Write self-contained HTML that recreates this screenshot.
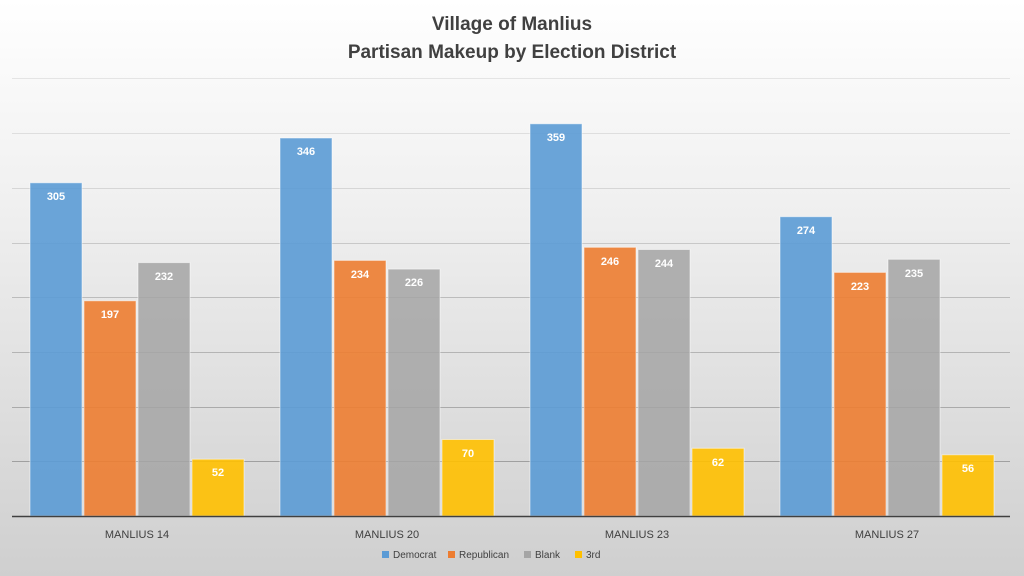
<!DOCTYPE html>
<html><head><meta charset="utf-8"><style>
html,body{margin:0;padding:0;width:1024px;height:576px;overflow:hidden}
svg{display:block;font-family:"Liberation Sans",Arial,sans-serif}
.d{fill:#5b9bd5;fill-opacity:.9}.r{fill:#ed7d31;fill-opacity:.9}.b{fill:#a5a5a5;fill-opacity:.85}.t{fill:#ffc000;fill-opacity:.9}
rect.d,rect.r,rect.b,rect.t{stroke:#fff;stroke-opacity:.5;stroke-width:1}
</style></head><body>
<svg width="1024" height="576" xmlns="http://www.w3.org/2000/svg">
<defs><linearGradient id="bg" x1="0" y1="0" x2="0" y2="1">
<stop offset="0" stop-color="#ffffff"/><stop offset="0.35" stop-color="#f0f0f0"/><stop offset="1" stop-color="#cfcfcf"/></linearGradient></defs>
<rect width="1024" height="576" fill="url(#bg)"/>
<text x="512" y="30" text-anchor="middle" font-size="19" font-weight="bold" fill="#404040">Village of Manlius</text>
<text x="512" y="58" text-anchor="middle" font-size="19" font-weight="bold" fill="#404040">Partisan Makeup by Election District</text>
<g stroke-width="1">
<line x1="12" x2="1010" y1="78.5" y2="78.5" stroke="#e4e4e4"/>
<line x1="12" x2="1010" y1="133.5" y2="133.5" stroke="#dedede"/>
<line x1="12" x2="1010" y1="188.5" y2="188.5" stroke="#d6d6d6"/>
<line x1="12" x2="1010" y1="243.5" y2="243.5" stroke="#c8c8c8"/>
<line x1="12" x2="1010" y1="297.5" y2="297.5" stroke="#bcbcbc"/>
<line x1="12" x2="1010" y1="352.5" y2="352.5" stroke="#b4b4b4"/>
<line x1="12" x2="1010" y1="407.5" y2="407.5" stroke="#aaaaaa"/>
<line x1="12" x2="1010" y1="461.5" y2="461.5" stroke="#a0a0a0"/>
</g>
<g>
<rect class="d" x="30" y="182.8" width="52" height="333.2"/>
<rect class="r" x="84" y="300.8" width="52" height="215.2"/>
<rect class="b" x="138" y="262.6" width="52" height="253.4"/>
<rect class="t" x="192" y="459.2" width="52" height="56.8"/>
<rect class="d" x="280" y="138" width="52" height="378"/>
<rect class="r" x="334" y="260.4" width="52" height="255.6"/>
<rect class="b" x="388" y="269.1" width="52" height="246.9"/>
<rect class="t" x="442" y="439.5" width="52" height="76.5"/>
<rect class="d" x="530" y="123.8" width="52" height="392.2"/>
<rect class="r" x="584" y="247.3" width="52" height="268.7"/>
<rect class="b" x="638" y="249.5" width="52" height="266.5"/>
<rect class="t" x="692" y="448.3" width="52" height="67.7"/>
<rect class="d" x="780" y="216.7" width="52" height="299.3"/>
<rect class="r" x="834" y="272.4" width="52" height="243.6"/>
<rect class="b" x="888" y="259.3" width="52" height="256.7"/>
<rect class="t" x="942" y="454.8" width="52" height="61.2"/>
</g>
<g font-size="11" font-weight="bold" fill="#fff" text-anchor="middle">
<text x="56" y="200">305</text><text x="110" y="318">197</text><text x="164" y="280">232</text><text x="218" y="476">52</text>
<text x="306" y="155">346</text><text x="360" y="278">234</text><text x="414" y="286">226</text><text x="468" y="457">70</text>
<text x="556" y="141">359</text><text x="610" y="265">246</text><text x="664" y="267">244</text><text x="718" y="466">62</text>
<text x="806" y="234">274</text><text x="860" y="290">223</text><text x="914" y="277">235</text><text x="968" y="472">56</text>
</g>
<line x1="12" x2="1010" y1="516.5" y2="516.5" stroke="#404040" stroke-width="1.5"/>
<g font-size="11" fill="#404040" text-anchor="middle">
<text x="137" y="538">MANLIUS 14</text><text x="387" y="538">MANLIUS 20</text>
<text x="637" y="538">MANLIUS 23</text><text x="887" y="538">MANLIUS 27</text>
</g>
<g font-size="10" fill="#404040">
<rect x="382" y="551" width="7" height="7" fill="#5b9bd5"/><text x="393" y="558">Democrat</text>
<rect x="448" y="551" width="7" height="7" fill="#ed7d31"/><text x="459" y="558">Republican</text>
<rect x="524" y="551" width="7" height="7" fill="#a5a5a5"/><text x="535" y="558">Blank</text>
<rect x="575" y="551" width="7" height="7" fill="#ffc000"/><text x="586" y="558">3rd</text>
</g>
</svg>
</body></html>
